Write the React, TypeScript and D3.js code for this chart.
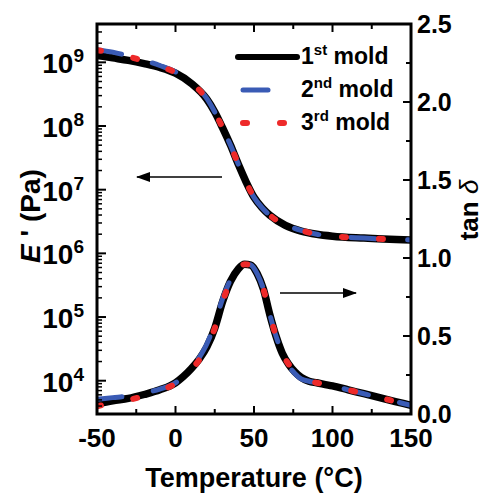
import React from "react";
import * as d3 from "d3";

// ---- data ----
const tempE = [-50, -40, -30, -20, -10, 0, 10, 20, 25, 30, 35, 40, 45, 50, 55, 60, 70, 80, 90, 100, 120, 150];
const logE1 = [9.11, 9.07, 9.03, 8.98, 8.92, 8.83, 8.67, 8.42, 8.22, 7.97, 7.7, 7.4, 7.12, 6.88, 6.72, 6.6, 6.44, 6.35, 6.3, 6.27, 6.24, 6.21];
const logE2 = [9.2, 9.16, 9.1, 9.03, 8.95, 8.85, 8.68, 8.43, 8.22, 7.97, 7.7, 7.4, 7.12, 6.88, 6.72, 6.6, 6.45, 6.36, 6.3, 6.27, 6.24, 6.21];
const logE3 = [9.19, 9.15, 9.09, 9.02, 8.94, 8.84, 8.68, 8.42, 8.22, 7.97, 7.7, 7.4, 7.12, 6.88, 6.72, 6.6, 6.44, 6.36, 6.3, 6.27, 6.24, 6.21];

const tempT = [-50, -40, -30, -20, -10, 0, 5, 10, 15, 20, 25, 30, 35, 40, 44, 48, 52, 56, 60, 64, 68, 72, 76, 80, 85, 90, 100, 110, 120, 130, 140, 150];
const tan1 = [0.065, 0.085, 0.1, 0.125, 0.155, 0.2, 0.24, 0.29, 0.35, 0.43, 0.55, 0.72, 0.85, 0.93, 0.96, 0.955, 0.9, 0.8, 0.64, 0.5, 0.39, 0.32, 0.27, 0.235, 0.21, 0.2, 0.18, 0.155, 0.13, 0.105, 0.08, 0.055];
const tan2 = [0.095, 0.105, 0.115, 0.135, 0.16, 0.2, 0.24, 0.29, 0.36, 0.45, 0.58, 0.74, 0.86, 0.935, 0.965, 0.955, 0.9, 0.8, 0.64, 0.5, 0.39, 0.31, 0.26, 0.225, 0.21, 0.2, 0.18, 0.155, 0.13, 0.105, 0.08, 0.055];
const tan3 = [0.05, 0.07, 0.09, 0.115, 0.15, 0.195, 0.235, 0.285, 0.345, 0.43, 0.55, 0.72, 0.85, 0.93, 0.96, 0.955, 0.9, 0.8, 0.64, 0.5, 0.39, 0.32, 0.27, 0.235, 0.21, 0.2, 0.18, 0.155, 0.13, 0.105, 0.08, 0.055];

const xTicks = [-50, 0, 50, 100, 150];
const xMinor = [-25, 25, 75, 125];
const yLeftExps = [4, 5, 6, 7, 8, 9];
const yRightTicks = [0, 0.5, 1.0, 1.5, 2.0, 2.5];
const yRightMinor = [0.25, 0.75, 1.25, 1.75, 2.25];
const legendNames = [
  { n: "1", sup: "st" },
  { n: "2", sup: "nd" },
  { n: "3", sup: "rd" },
];

const FONT = "'Liberation Sans', Arial, Helvetica, sans-serif";

export default function App() {
  const L = 97, R = 411, T = 24, B = 414;
  const x = d3.scaleLinear().domain([-50, 150]).range([L, R]);
  const yL = d3.scaleLog().domain([3000, 4e9]).range([B, T]);
  const yR = d3.scaleLinear().domain([0, 2.5]).range([B, T]);

  const lineE = d3
    .line<[number, number]>()
    .x((d) => x(d[0]))
    .y((d) => yL(Math.pow(10, d[1])))
    .curve(d3.curveMonotoneX);
  const lineT = d3
    .line<[number, number]>()
    .x((d) => x(d[0]))
    .y((d) => yR(d[1]))
    .curve(d3.curveMonotoneX);

  const zip = (a: number[], b: number[]) => a.map((v, i) => [v, b[i]] as [number, number]);

  const styles = [
    { stroke: "#000", width: 7.5, dash: undefined as string | undefined },
    { stroke: "#3a5bb5", width: 5, dash: "25 32" },
    { stroke: "#ee2a2a", width: 6, dash: "4 33" },
  ];
  const eSeries = [logE1, logE2, logE3];
  const tSeries = [tan1, tan2, tan3];

  // minor ticks for log axis
  const logMinor: number[] = [];
  for (let e = 3; e <= 9; e++) {
    for (let m = 2; m <= 9; m++) {
      const v = m * Math.pow(10, e);
      if (v >= 3000 && v <= 4e9) logMinor.push(v);
    }
  }

  const tickW = 2;
  return (
    <svg
      width={486}
      height={494}
      style={{ position: "absolute", left: 0, top: 0, background: "#fff" }}
      fontFamily={FONT}
    >
      <rect x={0} y={0} width={486} height={494} fill="#fff" />
      <defs>
        <clipPath id="plotclip">
          <rect x={L} y={T} width={R - L} height={B - T} />
        </clipPath>
      </defs>

      {/* curves */}
      <g clipPath="url(#plotclip)">
        {styles.map((s, i) => (
          <path
            key={"e" + i}
            d={lineE(zip(tempE, eSeries[i])) || ""}
            fill="none"
            stroke={s.stroke}
            strokeWidth={s.width}
            strokeDasharray={s.dash}
            strokeLinecap="round"
            strokeLinejoin="round"
          />
        ))}
        {styles.map((s, i) => (
          <path
            key={"t" + i}
            d={lineT(zip(tempT, tSeries[i])) || ""}
            fill="none"
            stroke={s.stroke}
            strokeWidth={s.width}
            strokeDasharray={s.dash}
            strokeLinecap="round"
            strokeLinejoin="round"
          />
        ))}
      </g>

      {/* ticks */}
      <g stroke="#000" strokeWidth={tickW}>
        {xTicks.map((t) => (
          <g key={"xt" + t}>
            <line x1={x(t)} x2={x(t)} y1={B} y2={B - 8} />
            <line x1={x(t)} x2={x(t)} y1={T} y2={T + 8} />
          </g>
        ))}
        {xMinor.map((t) => (
          <g key={"xm" + t}>
            <line x1={x(t)} x2={x(t)} y1={B} y2={B - 5} />
            <line x1={x(t)} x2={x(t)} y1={T} y2={T + 5} />
          </g>
        ))}
        {yLeftExps.map((e) => (
          <line key={"yl" + e} x1={L} x2={L + 9} y1={yL(Math.pow(10, e))} y2={yL(Math.pow(10, e))} />
        ))}
        {logMinor.map((v) => (
          <line key={"ylm" + v} x1={L} x2={L + 5} y1={yL(v)} y2={yL(v)} strokeWidth={1.5} />
        ))}
        {yRightTicks.map((t) => (
          <line key={"yr" + t} x1={R} x2={R - 8} y1={yR(t)} y2={yR(t)} />
        ))}
        {yRightMinor.map((t) => (
          <line key={"yrm" + t} x1={R} x2={R - 5} y1={yR(t)} y2={yR(t)} />
        ))}
      </g>

      {/* frame */}
      <rect x={L} y={T} width={R - L} height={B - T} fill="none" stroke="#000" strokeWidth={3} />

      {/* left tick labels */}
      {yLeftExps.map((e) => (
        <text
          key={"lbl" + e}
          x={84}
          y={yL(Math.pow(10, e)) + 11}
          textAnchor="end"
          fontSize={28}
          fontWeight="bold"
          fill="#000"
        >
          10
          <tspan fontSize={19} dy={-11}>
            {e}
          </tspan>
        </text>
      ))}

      {/* right tick labels */}
      {yRightTicks.map((t) => (
        <text
          key={"rl" + t}
          x={417}
          y={yR(t) + 9}
          textAnchor="start"
          fontSize={25}
          fontWeight="bold"
          fill="#000"
        >
          {t.toFixed(1)}
        </text>
      ))}

      {/* bottom tick labels */}
      {xTicks.map((t) => (
        <text key={"bl" + t} x={x(t)} y={447} textAnchor="middle" fontSize={26} fontWeight="bold" fill="#000">
          {t}
        </text>
      ))}

      {/* axis titles */}
      <text x={254} y={487} textAnchor="middle" fontSize={27} fontWeight="bold" fill="#000">
        Temperature (°C)
      </text>
      <text
        transform="translate(40,216) rotate(-90)"
        textAnchor="middle"
        fontSize={28}
        fontWeight="bold"
        fill="#000"
      >
        <tspan fontStyle="italic">E</tspan>
        <tspan> ' (Pa)</tspan>
      </text>
      <text
        transform="translate(478,210) rotate(-90)"
        textAnchor="middle"
        fontSize={26}
        fill="#000"
      >
        <tspan fontWeight="bold">tan </tspan>
        <tspan fontStyle="italic">δ</tspan>
      </text>

      {/* legend */}
      {styles.map((s, i) => {
        const ly = 57 + i * 33;
        return (
          <g key={"leg" + i}>
            <line
              x1={i === 0 ? 238 : 243}
              x2={297}
              y1={ly}
              y2={ly}
              stroke={s.stroke}
              strokeWidth={i === 0 ? 6 : s.width}
              strokeDasharray={s.dash}
              strokeLinecap="round"
            />
            <text x={301} y={ly + 7} fontSize={23} fontWeight="bold" fill="#000">
              {legendNames[i].n}
              <tspan fontSize={15} dy={-9}>
                {legendNames[i].sup}
              </tspan>
              <tspan dy={9}> mold</tspan>
            </text>
          </g>
        );
      })}

      {/* arrows */}
      <defs>
        <marker id="ah" viewBox="0 0 14 10" refX={13} refY={5} markerWidth={14} markerHeight={10} markerUnits="userSpaceOnUse" orient="auto">
          <path d="M0,0 L14,5 L0,10 Z" fill="#000" />
        </marker>
      </defs>
      <line x1={222} y1={177} x2={137} y2={177} stroke="#000" strokeWidth={1.6} markerEnd="url(#ah)" />
      <line x1={280} y1={293} x2={356} y2={293} stroke="#000" strokeWidth={1.6} markerEnd="url(#ah)" />
    </svg>
  );
}
